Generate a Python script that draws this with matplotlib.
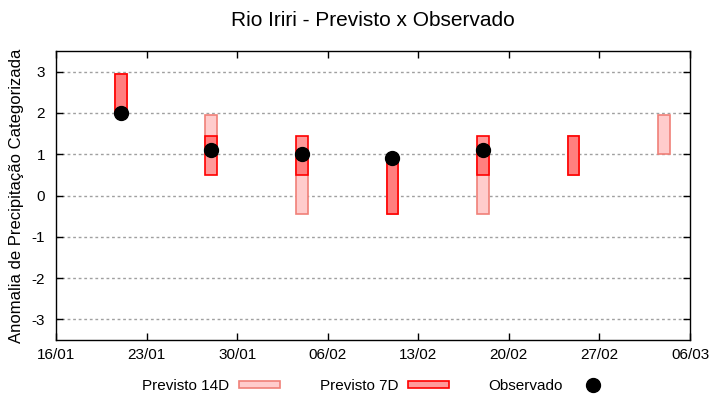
import numpy as np
import pandas as pd
import matplotlib
matplotlib.use('agg')
import matplotlib.pyplot as plt
import matplotlib.dates as mdates
from matplotlib.patches import Patch
from matplotlib.lines import Line2D

plt.rcParams['font.family'] = ['Liberation Sans', 'DejaVu Sans']
plt.rcParams['axes.unicode_minus'] = False

# previsao 7 dias: limites inferior e superior da faixa
datas_7d = ['2021-01-21', '2021-01-28', '2021-02-04', '2021-02-11', '2021-02-18', '2021-02-25']
inf_7d = [2.0, 0.5, 0.5, -0.45, 0.5, 0.5]
sup_7d = [2.95, 1.45, 1.45, 0.9, 1.45, 1.45]

# previsao 14 dias
datas_14d = ['2021-01-21', '2021-01-28', '2021-02-04', '2021-02-11', '2021-02-18', '2021-02-25', '2021-03-04']
inf_14d = [2.0, 1.0, -0.45, -0.45, -0.45, 0.5, 1.0]
sup_14d = [2.95, 1.95, 1.0, 0.9, 1.0, 1.45, 1.95]

# observado
datas_obs = ['2021-01-21', '2021-01-28', '2021-02-04', '2021-02-11', '2021-02-18']
obs = [2.0, 1.1, 1.0, 0.9, 1.1]

ticks_x = pd.date_range('2021-01-16', '2021-03-06', freq='7D')
ticks_y = [-3, -2, -1, 0, 1, 2, 3]

cor_14d = '#ffcccc'
borda_14d = '#f08078'
cor_7d = '#ff9a9a'
borda_7d = '#ff0000'
cor_sobreposto = '#ff7f7f'
largura = 0.9

d7 = pd.to_datetime(datas_7d)
d14 = pd.to_datetime(datas_14d)
dobs = pd.to_datetime(datas_obs)

fig = plt.figure(figsize=(7.2, 4), dpi=100)
ax = fig.add_axes([56 / 720, 60 / 400, 634 / 720, 289 / 400])

inf14 = np.array(inf_14d)
sup14 = np.array(sup_14d)
inf7 = np.array(inf_7d)
sup7 = np.array(sup_7d)

ax.bar(d14, sup14 - inf14, bottom=inf14, width=largura, color=cor_14d,
       edgecolor=borda_14d, linewidth=1.2, zorder=2)
ax.bar(d7, sup7 - inf7, bottom=inf7, width=largura, color=cor_7d,
       edgecolor='none', linewidth=0, zorder=3)

# trecho em que as duas previsoes se sobrepoem
faixa14 = dict(zip(d14, zip(inf14, sup14)))
s_datas, s_inf, s_sup = [], [], []
for d, a, b in zip(d7, inf7, sup7):
    if d in faixa14:
        lo = max(a, faixa14[d][0])
        hi = min(b, faixa14[d][1])
        if hi > lo:
            s_datas.append(d)
            s_inf.append(lo)
            s_sup.append(hi)
s_inf = np.array(s_inf)
s_sup = np.array(s_sup)
ax.bar(s_datas, s_sup - s_inf, bottom=s_inf, width=largura, color=cor_sobreposto,
       edgecolor='none', linewidth=0, zorder=3.5)
ax.bar(d7, sup7 - inf7, bottom=inf7, width=largura, fill=False,
       edgecolor=borda_7d, linewidth=1.2, zorder=4)

ax.plot(dobs, obs, 'o', color='black', markersize=10, zorder=5)

ax.set_xlim(ticks_x[0], ticks_x[-1])
ax.set_ylim(-3.5, 3.5)
ax.set_xticks(ticks_x)
ax.xaxis.set_major_formatter(mdates.DateFormatter('%d/%m'))
ax.set_yticks(ticks_y)
ax.tick_params(direction='in', length=5, width=1, top=True, right=True,
               labelsize=11, colors='black')
ax.tick_params(axis='x', pad=6)
ax.tick_params(axis='y', pad=8)
ax.yaxis.grid(True, linestyle=(0, (2, 2)), color='#a0a0a0', linewidth=1)
ax.set_axisbelow(True)
for s in ax.spines.values():
    s.set_linewidth(1)
    s.set_color('black')

ax.set_ylabel('Anomalia de Precipitação Categorizada', fontsize=12, labelpad=5)
fig.text(373 / 720, 1 - 20 / 400, 'Rio Iriri - Previsto x Observado',
         fontsize=15, ha='center', va='center')

handles = [
    Patch(facecolor=cor_14d, edgecolor=borda_14d, linewidth=1.2),
    Patch(facecolor=cor_7d, edgecolor=borda_7d, linewidth=1.2),
    Line2D([], [], linestyle='none', marker='o', color='black', markersize=10),
]
fig.legend(handles, ['Previsto 14D', 'Previsto 7D', 'Observado'],
           loc='center', bbox_to_anchor=(378 / 720, 1 - 386 / 400), ncol=3,
           frameon=False, markerfirst=False, fontsize=11, handlelength=2.67,
           handleheight=0.4, handletextpad=0.65, columnspacing=2.6)

fig.savefig('out.png', dpi=100)
